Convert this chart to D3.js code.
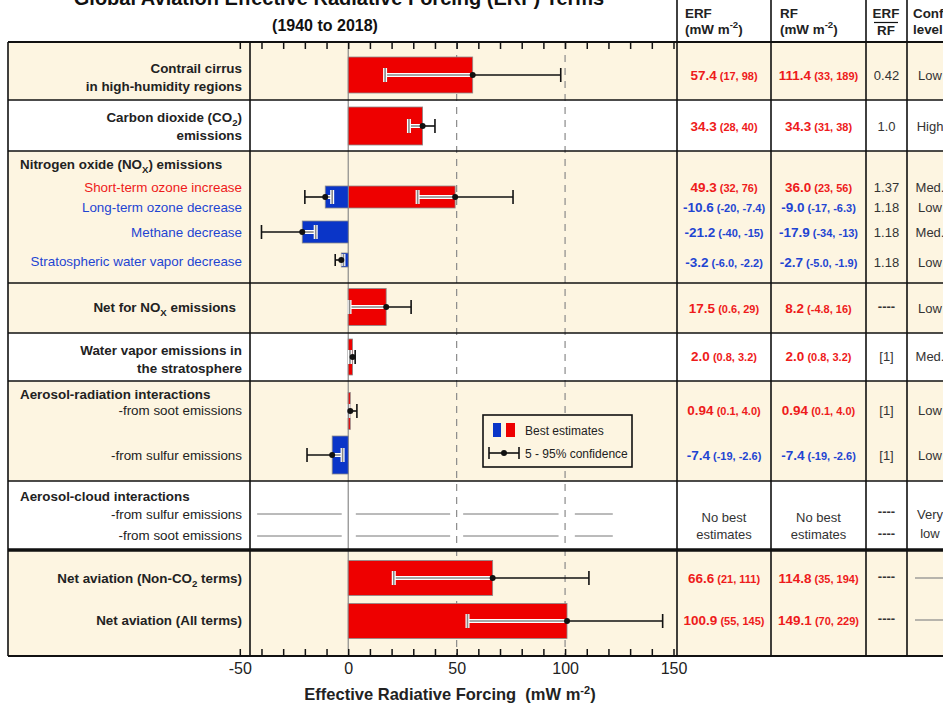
<!DOCTYPE html>
<html>
<head>
<meta charset="utf-8">
<script src="https://cdn.jsdelivr.net/npm/d3@7"></script>
<style>
body { margin: 0; background: #fff; }
text { font-family: "Liberation Sans", Arial, sans-serif; }
</style>
</head>
<body>
<svg id="fig" width="943" height="705"></svg>
<script>
// ---- data ----
const terms = ["contrail", "co2", "o3short", "o3long", "ch4", "h2o_strat", "netNOx",
  "h2o", "soot", "sulfur", "netNonCO2", "netAll"];
const erfBest = [57.4, 34.3, 49.3, -10.6, -21.2, -3.2, 17.5, 2.0, 0.94, -7.4, 66.6, 100.9];
const erfLow  = [17, 28, 32, -20, -40, -6.0, 0.6, 0.8, 0.1, -19, 21, 55];
const erfHigh = [98, 40, 76, -7.4, -15, -2.2, 29, 3.2, 4.0, -2.6, 111, 145];
const rfBest  = [111.4, 34.3, 36.0, -9.0, -17.9, -2.7, 8.2, 2.0, 0.94, -7.4, 114.8, 149.1];
const rfLow   = ["33", "31", "23", "-17", "-34", "-5.0", "-4.8", "0.8", "0.1", "-19", "35", "70"];
const rfHigh  = ["189", "38", "56", "-6.3", "-13", "-1.9", "16", "3.2", "4.0", "-2.6", "194", "229"];
const erfLowTxt  = ["17", "28", "32", "-20", "-40", "-6.0", "0.6", "0.8", "0.1", "-19", "21", "55"];
const erfHighTxt = ["98", "40", "76", "-7.4", "-15", "-2.2", "29", "3.2", "4.0", "-2.6", "111", "145"];
const erfBestTxt = ["57.4", "34.3", "49.3", "-10.6", "-21.2", "-3.2", "17.5", "2.0", "0.94", "-7.4", "66.6", "100.9"];
const rfBestTxt  = ["111.4", "34.3", "36.0", "-9.0", "-17.9", "-2.7", "8.2", "2.0", "0.94", "-7.4", "114.8", "149.1"];
const ratioTxt = ["0.42", "1.0", "1.37", "1.18", "1.18", "1.18", "----", "[1]", "[1]", "[1]", "----", "----"];
const confTxt  = ["Low", "High", "Med.", "Low", "Med.", "Low", "Low", "Med.", "Low", "Low", "", ""];
// aerosol-cloud: no estimate, drawn as broken reference lines
const noEstStart = [-42, 3.5, 53, 104.5];
const noEstEnd   = [-3, 47, 97, 122];
const axisLabels = [-50, 0, 50, 100, 150];
const minorTicks = d3.range(-50, 151, 10);

// ---- layout ----
const barCenter = d3.scaleOrdinal().domain(terms)
  .range([75, 126, 197, 197, 232, 260, 307, 357, 411, 455, 578, 621]);
const barHeight = d3.scaleOrdinal().domain(terms)
  .range([36, 38, 22, 22, 22, 14, 37, 36, 37, 38, 35, 35]);
const textCenter = d3.scaleOrdinal().domain(terms)
  .range([75, 126, 187, 207, 232, 262, 308, 356, 410, 455, 578, 620]);

const RED = "#ee0000", BLUE = "#0a35c8", TRED = "#ee1b1b", TBLUE = "#1f45d2";
const BEIGE = "#fdf5e1";
const yTop = 42, yBot = 656, L = 8, R = 943;
const cols = [677, 771, 866, 907];

const x = d3.scaleLinear().domain([-50, 150]).range([239.8, 673.5]);
const svg = d3.select("#fig");

// section backgrounds
const sections = [[42, 100, BEIGE], [100, 151, "#fff"], [151, 283, BEIGE], [283, 333, BEIGE],
  [333, 381, "#fff"], [381, 481, BEIGE], [481, 550, "#fff"], [550, 656, BEIGE]];
svg.selectAll(".bg").data(sections).join("rect")
  .attr("x", L).attr("width", R - L)
  .attr("y", d => d[0]).attr("height", d => d[1] - d[0])
  .attr("fill", d => d[2]);

// grid lines
svg.append("line").attr("x1", x(0)).attr("x2", x(0)).attr("y1", yTop).attr("y2", yBot)
  .attr("stroke", "#8a8a8a").attr("stroke-width", 1.2);
[50, 100].forEach(v => svg.append("line").attr("x1", x(v)).attr("x2", x(v))
  .attr("y1", yTop).attr("y2", yBot).attr("stroke", "#8a8a8a")
  .attr("stroke-width", 1.2).attr("stroke-dasharray", "7,6"));

// no-estimate lines for aerosol-cloud interactions
[514, 536].forEach(yy => {
  svg.selectAll(null).data(noEstStart).join("line")
    .attr("x1", d => x(d)).attr("x2", (d, i) => x(noEstEnd[i]))
    .attr("y1", yy).attr("y2", yy).attr("stroke", "#777").attr("stroke-width", 1);
});

// bars
svg.selectAll(".bar").data(terms).join("rect")
  .attr("x", (d, i) => x(Math.min(0, erfBest[i])))
  .attr("width", (d, i) => Math.abs(x(erfBest[i]) - x(0)))
  .attr("y", d => barCenter(d) - barHeight(d) / 2)
  .attr("height", d => barHeight(d))
  .attr("fill", (d, i) => erfBest[i] < 0 ? BLUE : RED)
  .attr("stroke", "#8a8a8a").attr("stroke-width", 0.8);

// error bars
function errBar(g, lo, hi, best, cy, capH, b0, b1) {
  g.append("line").attr("x1", x(lo)).attr("x2", x(hi)).attr("y1", cy).attr("y2", cy)
    .attr("stroke", "#111").attr("stroke-width", 1.6);
  const a = Math.max(lo, b0), b = Math.min(hi, b1);
  if (b > a) {
    g.append("line").attr("x1", x(a)).attr("x2", x(b)).attr("y1", cy).attr("y2", cy)
      .attr("stroke", "#fff").attr("stroke-width", 4);
    g.append("line").attr("x1", x(a)).attr("x2", x(b)).attr("y1", cy).attr("y2", cy)
      .attr("stroke", "#888").attr("stroke-width", 1.6);
  }
  [lo, hi].forEach(v => {
    const inside = v > b0 && v < b1;
    if (inside) g.append("line").attr("x1", x(v)).attr("x2", x(v))
      .attr("y1", cy - capH).attr("y2", cy + capH).attr("stroke", "#fff").attr("stroke-width", 4);
    g.append("line").attr("x1", x(v)).attr("x2", x(v))
      .attr("y1", cy - capH).attr("y2", cy + capH)
      .attr("stroke", inside ? "#888" : "#111").attr("stroke-width", 1.6);
  });
  g.append("circle").attr("cx", x(best)).attr("cy", cy).attr("r", 3).attr("fill", "#111");
}
const eg = svg.append("g");
terms.forEach((t, i) => {
  const h = barHeight(t);
  errBar(eg, erfLow[i], erfHigh[i], erfBest[i], barCenter(t), Math.min(7, h / 2 - 1),
    Math.min(0, erfBest[i]), Math.max(0, erfBest[i]));
});

// axis ticks (top and bottom) and labels
svg.append("g").attr("transform", `translate(0,${yTop})`)
  .call(d3.axisBottom(x).tickValues(minorTicks).tickSize(7).tickFormat(""))
  .call(g => g.select(".domain").remove())
  .call(g => g.selectAll("line").attr("stroke", "#111").attr("stroke-width", 1.5));
svg.append("g").attr("transform", `translate(0,${yBot})`)
  .call(d3.axisTop(x).tickValues(minorTicks).tickSize(7).tickFormat(""))
  .call(g => g.select(".domain").remove())
  .call(g => g.selectAll("line").attr("stroke", "#111").attr("stroke-width", 1.5));
svg.append("g").attr("transform", `translate(0,${yBot})`)
  .call(d3.axisBottom(x).tickValues(axisLabels).tickSize(0).tickPadding(7).tickFormat(d => String(d)))
  .call(g => g.select(".domain").remove())
  .call(g => g.selectAll("text").attr("font-size", 16).attr("fill", "#222")
    .attr("font-family", "Liberation Sans, Arial, sans-serif"));

const axTitle = svg.append("text").attr("x", 450).attr("y", 700).attr("text-anchor", "middle")
  .attr("font-size", 16.5).attr("font-weight", "bold").attr("fill", "#222");
axTitle.append("tspan").text("Effective Radiative Forcing\u00a0\u00a0(mW m");
axTitle.append("tspan").attr("dy", -6).attr("font-size", 11).text("-2");
axTitle.append("tspan").attr("dy", 6).text(")");

// table borders
const hLines = [[yTop, 2], [100, 1.6], [151, 1.6], [283, 1.6], [333, 1.6], [381, 1.6], [481, 1.6], [550, 3.5], [yBot, 2]];
hLines.forEach(([yy, w]) => svg.append("line").attr("x1", L).attr("x2", R)
  .attr("y1", yy).attr("y2", yy).attr("stroke", "#111").attr("stroke-width", w));
[L, 250].forEach(xx => svg.append("line").attr("x1", xx).attr("x2", xx)
  .attr("y1", yTop).attr("y2", yBot).attr("stroke", "#111").attr("stroke-width", 1.6));
cols.forEach(xx => svg.append("line").attr("x1", xx).attr("x2", xx)
  .attr("y1", 0).attr("y2", yBot).attr("stroke", "#111").attr("stroke-width", 1.6));

// text with sub/superscripts; a script part must be followed by a plain part
function richText(g, parts, xx, yy, opts) {
  const size = opts.size || 13.4;
  const t = g.append("text").attr("x", xx).attr("y", yy + 4.5)
    .attr("text-anchor", opts.anchor || "end").attr("font-size", size)
    .attr("font-weight", opts.bold ? "bold" : "normal").attr("fill", opts.color || "#222");
  let back = 0;
  parts.forEach(p => {
    if (typeof p === "string") {
      const s = t.append("tspan").text(p);
      if (back) s.attr("dy", back);
      back = 0;
    } else {
      const dy = p.sub ? 4 : -6;
      t.append("tspan").attr("dy", dy).attr("font-size", size * 0.72).text(p.sub || p.sup);
      back = -dy;
    }
  });
  return t;
}
const lab = svg.append("g");
const B = { bold: true };
richText(lab, ["Contrail cirrus"], 242, 68, B);
richText(lab, ["in high-humidity regions"], 242, 86, B);
richText(lab, ["Carbon dioxide (CO", { sub: "2" }, ")"], 242, 117, B);
richText(lab, ["emissions"], 242, 135, B);
richText(lab, ["Nitrogen oxide (NO", { sub: "X" }, ") emissions"], 20, 164, { bold: true, anchor: "start" });
richText(lab, ["Short-term ozone increase"], 242, 187, { color: TRED });
richText(lab, ["Long-term ozone decrease"], 242, 207, { color: TBLUE });
richText(lab, ["Methane decrease"], 242, 232, { color: TBLUE });
richText(lab, ["Stratospheric water vapor decrease"], 242, 261, { color: TBLUE });
richText(lab, ["Net for NO", { sub: "X" }, " emissions"], 236, 307, B);
richText(lab, ["Water vapor emissions in"], 242, 350, B);
richText(lab, ["the stratosphere"], 242, 368, B);
richText(lab, ["Aerosol-radiation interactions"], 20, 394, { bold: true, anchor: "start" });
richText(lab, ["-from soot emissions"], 242, 410, {});
richText(lab, ["-from sulfur emissions"], 242, 455, {});
richText(lab, ["Aerosol-cloud interactions"], 20, 496, { bold: true, anchor: "start" });
richText(lab, ["-from sulfur emissions"], 242, 514, {});
richText(lab, ["-from soot emissions"], 242, 535, {});
richText(lab, ["Net aviation (Non-CO", { sub: "2" }, " terms)"], 242, 578, B);
richText(lab, ["Net aviation (All terms)"], 242, 620, B);

// title (its top is cut off by the frame, as in the original)
svg.append("text").attr("x", 339).attr("y", 5).attr("text-anchor", "middle")
  .attr("font-size", 20).attr("font-weight", "bold").attr("fill", "#111")
  .text("Global Aviation Effective Radiative Forcing (ERF) Terms");
svg.append("text").attr("x", 325).attr("y", 31).attr("text-anchor", "middle")
  .attr("font-size", 16).attr("font-weight", "bold").attr("fill", "#111")
  .text("(1940 to 2018)");

// table header
const hd = svg.append("g");
richText(hd, ["ERF"], 685, 13, { bold: true, anchor: "start" });
richText(hd, ["(mW m", { sup: "-2" }, ")"], 685, 29, { bold: true, anchor: "start" });
richText(hd, ["RF"], 780, 13, { bold: true, anchor: "start" });
richText(hd, ["(mW m", { sup: "-2" }, ")"], 780, 29, { bold: true, anchor: "start" });
richText(hd, ["ERF"], 886, 13, { bold: true, anchor: "middle" });
hd.append("line").attr("x1", 874).attr("x2", 898).attr("y1", 22.5).attr("y2", 22.5)
  .attr("stroke", "#111").attr("stroke-width", 1.2);
richText(hd, ["RF"], 886, 30, { bold: true, anchor: "middle" });
richText(hd, ["Conf"], 913, 13, { bold: true, anchor: "start" });
richText(hd, ["levels"], 913, 29, { bold: true, anchor: "start" });

// table values
function valueCell(xx, yy, best, lo, hi, neg) {
  const t = svg.append("text").attr("x", xx).attr("y", yy + 4.5).attr("text-anchor", "middle")
    .attr("font-weight", "bold").attr("fill", neg ? TBLUE : TRED);
  t.append("tspan").attr("font-size", 13.5).text(best);
  t.append("tspan").attr("font-size", 11).text(` (${lo}, ${hi})`);
}
terms.forEach((t, i) => {
  const yy = textCenter(t);
  valueCell(724, yy, erfBestTxt[i], erfLowTxt[i], erfHighTxt[i], erfBest[i] < 0);
  valueCell(818.5, yy, rfBestTxt[i], rfLow[i], rfHigh[i], rfBest[i] < 0);
  const r = ratioTxt[i];
  svg.append("text").attr("x", 886.5).attr("y", yy + (r === "----" ? 3 : 5))
    .attr("text-anchor", "middle").attr("font-size", 13)
    .attr("font-weight", r === "----" ? "bold" : "normal").attr("fill", "#333").text(r);
  if (confTxt[i]) svg.append("text").attr("x", 930).attr("y", yy + 5).attr("text-anchor", "middle")
    .attr("font-size", 13).attr("fill", "#333").text(confTxt[i]);
  else svg.append("line").attr("x1", 915).attr("x2", R).attr("y1", yy).attr("y2", yy)
    .attr("stroke", "#888").attr("stroke-width", 1.2);
});

// aerosol-cloud row: no estimates
[724, 818.5].forEach(xx => {
  svg.append("text").attr("x", xx).attr("y", 522).attr("text-anchor", "middle")
    .attr("font-size", 13).attr("fill", "#333").text("No best");
  svg.append("text").attr("x", xx).attr("y", 539).attr("text-anchor", "middle")
    .attr("font-size", 13).attr("fill", "#333").text("estimates");
});
[513, 535].forEach(yy => svg.append("text").attr("x", 886.5).attr("y", yy + 3)
  .attr("text-anchor", "middle").attr("font-size", 13).attr("font-weight", "bold")
  .attr("fill", "#333").text("----"));
svg.append("text").attr("x", 930).attr("y", 519).attr("text-anchor", "middle")
  .attr("font-size", 13).attr("fill", "#333").text("Very");
svg.append("text").attr("x", 930).attr("y", 538).attr("text-anchor", "middle")
  .attr("font-size", 13).attr("fill", "#333").text("low");

// legend
const lg = svg.append("g").attr("transform", "translate(483,415)");
lg.append("rect").attr("width", 149).attr("height", 52).attr("fill", BEIGE)
  .attr("stroke", "#111").attr("stroke-width", 1.6);
lg.append("rect").attr("x", 10).attr("y", 8).attr("width", 8).attr("height", 14).attr("fill", BLUE);
lg.append("rect").attr("x", 23).attr("y", 8).attr("width", 9).attr("height", 14).attr("fill", RED);
lg.append("text").attr("x", 42).attr("y", 20).attr("font-size", 12).attr("fill", "#222").text("Best estimates");
lg.append("line").attr("x1", 6).attr("x2", 36).attr("y1", 38).attr("y2", 38).attr("stroke", "#111").attr("stroke-width", 1.6);
[6, 36].forEach(xx => lg.append("line").attr("x1", xx).attr("x2", xx).attr("y1", 32).attr("y2", 44)
  .attr("stroke", "#111").attr("stroke-width", 1.6));
lg.append("circle").attr("cx", 21).attr("cy", 38).attr("r", 3).attr("fill", "#111");
lg.append("text").attr("x", 42).attr("y", 43).attr("font-size", 12).attr("fill", "#222").text("5 - 95% confidence");
</script>
</body>
</html>
